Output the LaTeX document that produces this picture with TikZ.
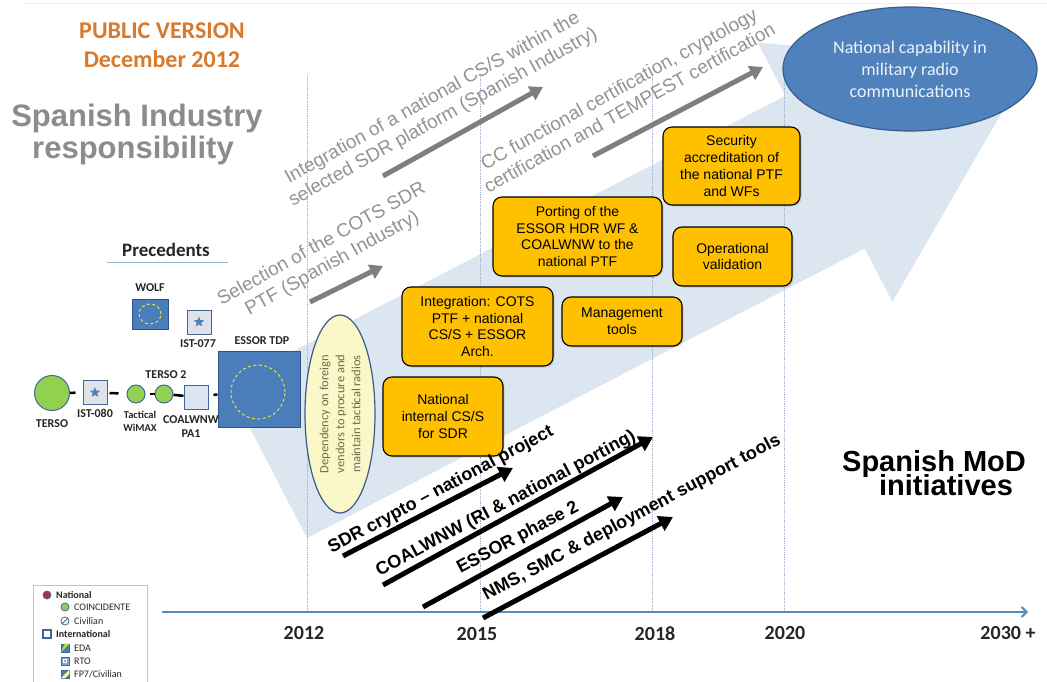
\documentclass[tikz,border=0pt]{standalone}
\usepackage{fontspec}
\setmainfont{Liberation Sans}
\newfontfamily\carl{Carlito}
\usetikzlibrary{arrows.meta,shapes.geometric,shadows}
\definecolor{arrowblue}{HTML}{DCE6F1}
\definecolor{vlinecol}{HTML}{9DB2CC}
\definecolor{axiscol}{HTML}{5B8AC2}
\definecolor{oboxfill}{HTML}{FFC000}
\definecolor{ellblue}{HTML}{4F81BD}
\definecolor{ellborder}{HTML}{385D8A}
\definecolor{ellText}{HTML}{EEF2F8}
\definecolor{depfill}{HTML}{FAF8C8}
\definecolor{depborder}{HTML}{3C5A8C}
\definecolor{deptext}{HTML}{6E6A50}
\definecolor{greenc}{HTML}{92D050}
\definecolor{navyb}{HTML}{41679A}
\definecolor{sqblue}{HTML}{4A7EBB}
\definecolor{sqborder}{HTML}{2E5588}
\definecolor{sqgray}{HTML}{DFE3E9}
\definecolor{sqlight}{HTML}{DBE5F1}
\definecolor{graytxt}{HTML}{939393}
\definecolor{grayarr}{HTML}{7F7F7F}
\definecolor{orangetxt}{HTML}{D9792B}
\definecolor{bigtxt}{HTML}{8C8C8C}
\definecolor{dashyel}{HTML}{E6E23C}
\definecolor{legborder}{HTML}{B8C4D4}
\definecolor{ulcol}{HTML}{9AB6D4}
\definecolor{topline}{HTML}{F0F0F0}
\newcommand\myfs[2]{\fontsize{#1}{#2}\selectfont}
\begin{document}
\begin{tikzpicture}[x=1pt,y=-1pt,
  bigarrow/.style={fill=arrowblue},
  vline/.style={draw=vlinecol, line width=0.8pt, densely dotted},
  axisline/.style={draw=axiscol, line width=2pt, -{Straight Barb[length=5pt,width=10pt]}},
  yearlbl/.style={font=\carl\bfseries\myfs{20}{22}, text=black!85},
  obox/.style={draw=black, line width=1.1pt, fill=oboxfill, rounded corners=9pt, align=center,
     inner sep=0pt, font=\myfs{14}{16.7}, drop shadow={shadow xshift=1.5pt, shadow yshift=-1.5pt, opacity=0.3}},
  grayarrow/.style={draw=grayarr, line width=5pt, -{Triangle[length=13pt,width=15pt]}},
  blackarrow/.style={draw=black, line width=5pt, -{Triangle[length=14pt,width=16pt]}},
  graylbl/.style={text=graytxt, font=\myfs{19}{22}, align=center, rotate=29},
  blacklbl/.style={text=black, font=\bfseries\myfs{18}{20}, rotate=28},
  preclbl/.style={font=\carl\bfseries\myfs{12}{14}, text=black!85, align=center},
  bluesq/.style={rectangle, fill=sqblue, draw=sqborder, line width=1pt, inner sep=0pt},
  graysq/.style={rectangle, fill=sqgray, draw=navyb, line width=1pt, inner sep=0pt, minimum size=24pt},
  greencirc/.style={circle, fill=greenc, draw=navyb, line width=1pt, inner sep=0pt},
  bluestar/.style={star, star points=5, star point ratio=2.3, fill=ellblue, inner sep=0pt, minimum size=11pt},
  ydash/.style={draw=dashyel, line width=1pt, dash pattern=on 3pt off 2.5pt},
  link/.style={draw=black, line width=2.5pt},
  legtxt/.style={font=\carl\myfs{10}{12}, text=black!85, anchor=west, inner sep=0pt},
  legicon/.style={inner sep=0pt, line width=0.8pt, draw=navyb}
]
\useasboundingbox (0,0) rectangle (1047,682);
\fill[white] (0,0) rectangle (1047,682);
\coordinate (tl1) at (22,4);
\coordinate (tl2) at (1047,4);
\draw[topline, line width=1pt] (tl1) -- (tl2);

% big background arrow
\fill[bigarrow] (307,538) -- (864.7,248.5) -- (892.4,301.8) -- (1028.4,66.5)
  -- (757.7,42.5) -- (785.4,95.8) -- (227.7,385.3) -- cycle;

% vertical dotted lines
\foreach \x/\n in {307/a,480/b,652/c,784/d}{
  \coordinate (vt\n) at (\x,75);
  \coordinate (vb\n) at (\x,612);
  \draw[vline] (vt\n) -- (vb\n);
}

% axis
\coordinate (axs) at (162,612);
\coordinate (axe) at (1028,612);
\draw[axisline] (axs) -- (axe);
\node[yearlbl] (y2012) at (304,633) {2012};
\node[yearlbl] (y2015) at (477,634) {2015};
\node[yearlbl] (y2018) at (655,634) {2018};
\node[yearlbl] (y2020) at (785,633) {2020};
\node[yearlbl] (y2030) at (1008,633) {2030 +};

% titles
\node[font=\carl\bfseries\myfs{24}{28}, text=orangetxt, anchor=base] (pub) at (162,39) {PUBLIC VERSION};
\node[font=\carl\bfseries\myfs{24}{28}, text=orangetxt, anchor=base] (dec) at (162,68) {December 2012};
\node[font=\bfseries\myfs{31}{32}, text=bigtxt, anchor=base] (sind1) at (137,127) {Spanish Industry};
\node[font=\bfseries\myfs{31}{32}, text=bigtxt, anchor=base] (sind2) at (133,159) {responsibility};
\node[font=\bfseries\myfs{29}{32}, text=black, anchor=base] (mod1) at (934,471) {Spanish MoD};
\node[font=\bfseries\myfs{29}{32}, text=black, anchor=base] (mod2) at (946,495) {initiatives};

% precedents
\node[font=\carl\bfseries\myfs{19}{22}, text=black!85] (prec) at (166,250) {Precedents};
\coordinate (ul1) at (107,262);
\coordinate (ul2) at (228,262);
\draw[ulcol, line width=1pt] (ul1) -- (ul2);

\node[bluesq, minimum width=36pt, minimum height=30pt] (wolf) at (150,314) {};
\draw[ydash] (wolf.center) ellipse (11pt and 10pt);
\node[preclbl] (wolfl) at (150,288) {WOLF};

\node[graysq] (ist077) at (199,322) {};
\node[bluestar] (st077) at (ist077.center) {};
\node[preclbl] (ist077l) at (198,344) {IST-077};

\node[bluesq, minimum width=82pt, minimum height=76pt] (essor) at (259,389.5) {};
\draw[ydash] (258,392) circle (27pt);
\node[preclbl] (essorl) at (262,341) {ESSOR TDP};

\node[greencirc, minimum size=35pt] (terso) at (52,393) {};
\node[preclbl] (tersol) at (52,424) {TERSO};
\node[graysq] (ist080) at (95,392.5) {};
\node[bluestar] (st080) at (ist080.center) {};
\node[preclbl] (ist080l) at (95,413) {IST-080};
\node[greencirc, minimum size=18pt] (wimax) at (136,394) {};
\node[preclbl, font=\carl\bfseries\myfs{10.5}{13}] (wimaxl) at (140,421) {Tactical\\WiMAX};
\node[greencirc, minimum size=18pt] (terso2) at (164,394) {};
\node[preclbl] (terso2l) at (166,375) {TERSO 2};
\node[graysq, fill=sqlight] (coal) at (196,397) {};
\node[preclbl, font=\carl\bfseries\myfs{12}{14}] (coall) at (191,427) {COALWNW\\PA1};

\draw[link, shorten >=7pt] (terso) -- (ist080);
\draw[link, shorten >=8pt, shorten <=2pt] (ist080) -- (wimax);
\draw[link, shorten <=4pt] (wimax) -- (terso2);
\draw[link] (terso2) -- (coal);
\draw[link, shorten <=5pt] (coal) -- (essor);

% dependency ellipse
\node[ellipse, rotate=90, fill=depfill, draw=depborder, line width=1.2pt, minimum width=198pt,
  minimum height=70pt, inner sep=0pt, align=center, text=deptext, font=\carl\myfs{12.5}{16}] (dep) at (340,414)
  {Dependency on foreign\\vendors to procure and\\maintain tactical radios};

% orange boxes
\node[obox, minimum width=120pt, minimum height=79pt] (natcs) at (443,416.5) {National\\internal CS/S\\for SDR};
\node[obox, minimum width=151pt, minimum height=79pt] (integ) at (477.5,326.5) {Integration: COTS\\PTF + national\\CS/S + ESSOR\\Arch.};
\node[obox, minimum width=120pt, minimum height=49pt] (mgmt) at (622,321.5) {Management\\tools};
\node[obox, minimum width=169pt, minimum height=79pt] (port) at (577.5,236.5) {Porting of the\\ESSOR HDR WF \&\\COALWNW to the\\national PTF};
\node[obox, minimum width=119pt, minimum height=59pt] (opval) at (732.5,256.5) {Operational\\validation};
\node[obox, minimum width=137pt, minimum height=78pt] (secac) at (731.5,166) {Security\\accreditation of\\the national PTF\\and WFs};

% national capability ellipse
\node[ellipse, fill=ellblue, draw=ellborder, line width=1.2pt, minimum width=254pt, minimum height=124pt,
  inner sep=0pt, align=center, text=ellText, font=\carl\myfs{18}{22}] (natcap) at (910,69)
  {National capability in\\military radio\\communications};

% gray (industry) labels and arrows
\node[graylbl] (gl1) at (327,254) {Selection of the COTS SDR\\PTF (Spanish Industry)};
\node[graylbl] (gl2) at (438,108) {Integration of a national CS/S within the\\selected SDR platform (Spanish Industry)};
\node[graylbl] (gl3) at (624,98) {CC functional certification, cryptology\\certification and TEMPEST certification};
\coordinate (ga1s) at (310,302); \coordinate (ga1e) at (383,266);
\coordinate (ga2s) at (383,176); \coordinate (ga2e) at (543,87);
\coordinate (ga3s) at (593,156); \coordinate (ga3e) at (763,67);
\draw[grayarrow] (ga1s) -- (ga1e);
\draw[grayarrow] (ga2s) -- (ga2e);
\draw[grayarrow] (ga3s) -- (ga3e);

% black (MoD) arrows and labels
\coordinate (ba1s) at (343,556); \coordinate (ba1e) at (513,468);
\coordinate (ba2s) at (383,585); \coordinate (ba2e) at (653,437);
\coordinate (ba3s) at (423,607); \coordinate (ba3e) at (623,497);
\coordinate (ba4s) at (483,618); \coordinate (ba4e) at (673,517);
\draw[blackarrow] (ba1s) -- (ba1e);
\draw[blackarrow] (ba2s) -- (ba2e);
\draw[blackarrow] (ba3s) -- (ba3e);
\draw[blackarrow] (ba4s) -- (ba4e);
\node[blacklbl] (bl1) at (441,490) {SDR crypto – national project};
\node[blacklbl] (bl2) at (506,504) {COALWNW (RI \& national porting)};
\node[blacklbl] (bl3) at (518,538) {ESSOR phase 2};
\node[blacklbl] (bl4) at (632,518) {NMS, SMC \& deployment support tools};

% legend
\node[draw=legborder, line width=0.8pt, minimum width=114pt, minimum height=105pt, inner sep=0pt] (legend) at (90,637.5) {};
\node[legicon, circle, fill=red!60!black!80, minimum size=8pt] (li1) at (47,595) {};
\node[legtxt, font=\carl\bfseries\myfs{10}{12}] (lt1) at (56,595) {National};
\node[legicon, circle, fill=greenc, minimum size=8pt] (li2) at (65,607) {};
\node[legtxt] (lt2) at (74,607) {COINCIDENTE};
\node[legicon, circle, fill=white, minimum size=8pt] (li3) at (65,621) {};
\draw[navyb, line width=0.9pt] (li3.south west) -- (li3.north east);
\node[legtxt] (lt3) at (74,621) {Civilian};
\node[legicon, rectangle, fill=white, minimum size=8pt, line width=1.1pt] (li4) at (47,634) {};
\node[legtxt, font=\carl\bfseries\myfs{10}{12}] (lt4) at (56,634) {International};
\node[legicon, rectangle, fill=sqblue, minimum size=8pt] (li5) at (65,648) {};
\fill[greenc!70!yellow] (li5.south west) -- (li5.north east) -- (li5.north) -- cycle;
\node[legtxt] (lt5) at (74,648) {EDA};
\node[legicon, rectangle, fill=sqblue!70, minimum size=8pt] (li6) at (65,661) {};
\node[draw=white, line width=0.5pt, inner sep=0pt, minimum size=3pt] (li6b) at (li6.center) {};
\node[legtxt] (lt6) at (74,661) {RTO};
\node[legicon, rectangle, fill=sqblue, minimum size=8pt] (li7) at (65,674) {};
\fill[yellow!40] (li7.south west) -- (li7.north east) -- (li7.east) -- (li7.south) -- cycle;
\node[legtxt] (lt7) at (74,674) {FP7/Civilian};
\end{tikzpicture}
\end{document}
